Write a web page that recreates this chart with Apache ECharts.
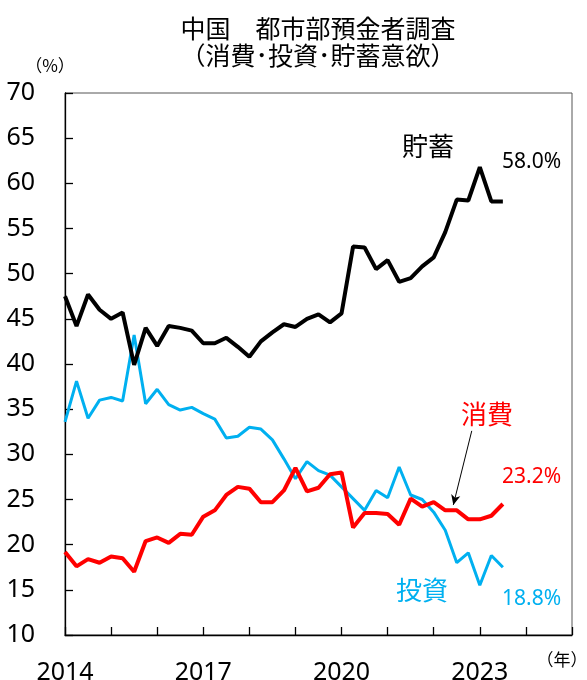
<!DOCTYPE html>
<html>
<head>
<meta charset="utf-8">
<script src="https://cdn.jsdelivr.net/npm/echarts@6/dist/echarts.min.js"></script>
<style>
html,body{margin:0;padding:0;background:#fff;}
#chart{width:587px;height:680px;}
</style>
</head>
<body>
<div id="chart"></div>
<script>
// Quarterly survey periods (first point at the 2014 tick)
const quarters = ['2013Q4','2014Q1','2014Q2','2014Q3','2014Q4','2015Q1','2015Q2','2015Q3','2015Q4',
  '2016Q1','2016Q2','2016Q3','2016Q4','2017Q1','2017Q2','2017Q3','2017Q4',
  '2018Q1','2018Q2','2018Q3','2018Q4','2019Q1','2019Q2','2019Q3','2019Q4',
  '2020Q1','2020Q2','2020Q3','2020Q4','2021Q1','2021Q2','2021Q3','2021Q4',
  '2022Q1','2022Q2','2022Q3','2022Q4','2023Q1','2023Q2'];

const savings = [47.5,44.2,47.7,46.0,45.0,45.7,39.9,44.0,42.0,44.2,44.0,43.7,42.3,42.3,42.9,41.9,40.8,
  42.5,43.5,44.4,44.1,45.0,45.5,44.6,45.6,53.0,52.9,50.5,51.5,49.1,49.5,50.8,51.8,54.6,58.2,58.1,61.8,58.0,58.0];

const consumption = [19.2,17.6,18.4,18.0,18.7,18.5,17.0,20.4,20.8,20.2,21.2,21.1,23.1,23.8,25.5,26.4,26.2,
  24.7,24.7,26.0,28.5,25.9,26.3,27.8,28.0,21.9,23.5,23.5,23.4,22.2,25.1,24.2,24.7,23.8,23.8,22.8,22.8,23.2,24.5];

const investment = [33.6,38.1,34.0,36.0,36.3,35.9,43.2,35.6,37.2,35.5,34.9,35.2,34.5,33.9,31.8,32.0,33.0,
  32.8,31.6,29.5,27.3,29.2,28.2,27.7,26.4,25.1,23.8,26.0,25.2,28.6,25.5,25.0,23.6,21.6,18.0,19.1,15.5,18.8,17.5];

// x ticks: one per year (4 quarters), labelled every 3 years
const yearTickLabels = {0:'2014', 12:'2017', 24:'2020', 36:'2023'};
const yTicks = {min:10, max:70, interval:5};

// annotation arrow (data coords: [quarter index, %])
const arrowFrom = [35.3, 32.6];
const arrowTo = [33.7, 24.4];

const toXY = arr => arr.map((v,i)=>[i,v]);

const BLUE = '#00B0F0', RED = '#FF0000', BLACK = '#000000';
const CJK = '"Noto Sans CJK JP","Noto Sans",sans-serif';
const NUM = '"Noto Sans","Liberation Sans",sans-serif';

const chart = echarts.init(document.getElementById('chart'), null, {renderer:'canvas'});
chart.setOption({
  animation:false,
  backgroundColor:'#fff',
  grid:{left:65, right:15, top:93, bottom:45, show:true, borderColor:'#555', borderWidth:1,
        containLabel:false, outerBoundsMode:'none'},
  xAxis:{
    type:'value', min:0, max:44, interval:4,
    axisLine:{show:true, onZero:false, lineStyle:{color:'#000', width:1.3}},
    axisTick:{show:true, inside:true, length:8, lineStyle:{color:'#000', width:1.3}},
    splitLine:{show:false},
    axisLabel:{
      formatter: v => yearTickLabels[v] || '',
      fontSize:25, fontFamily:NUM, color:'#000', margin:25,
      showMinLabel:true, showMaxLabel:true
    }
  },
  yAxis:{
    type:'value', min:yTicks.min, max:yTicks.max, interval:yTicks.interval,
    axisLine:{show:true, lineStyle:{color:'#000', width:1.3}},
    axisTick:{show:true, inside:true, length:8, lineStyle:{color:'#000', width:1.3}},
    splitLine:{show:false},
    axisLabel:{fontSize:25, fontFamily:NUM, color:'#000', margin:30}
  },
  series:[
    {name:'投資', type:'line', data:toXY(investment), symbol:'none', z:2,
     lineStyle:{color:BLUE, width:3}},
    {name:'消費', type:'line', data:toXY(consumption), symbol:'none', z:3,
     lineStyle:{color:RED, width:4},
     markLine:{silent:true, symbol:['none','arrow'], symbolSize:[7,10],
       label:{show:false},
       lineStyle:{color:'#000', width:1, type:'solid'},
       data:[[{coord:arrowFrom},{coord:arrowTo}]]}},
    {name:'貯蓄', type:'line', data:toXY(savings), symbol:'none', z:4,
     lineStyle:{color:BLACK, width:4}}
  ],
  graphic:[
    {type:'text', style:{x:318, y:15, text:'中国　都市部預金者調査\n（消費･投資･貯蓄意欲）',
      font:'25px '+CJK, fill:'#000', textAlign:'center', lineHeight:27}},
    {type:'text', style:{x:50, y:66, text:'（%）', font:'17px '+CJK, fill:'#000', textAlign:'center', textVerticalAlign:'middle'}},
    {type:'text', style:{x:562, y:660, text:'（年）', font:'17px '+CJK, fill:'#000', textAlign:'center', textVerticalAlign:'middle'}},
    {type:'text', style:{x:428, y:146, text:'貯蓄', font:'26px '+CJK, fill:BLACK, textAlign:'center', textVerticalAlign:'middle'}},
    {type:'text', style:{x:487, y:414, text:'消費', font:'26px '+CJK, fill:RED, textAlign:'center', textVerticalAlign:'middle'}},
    {type:'text', style:{x:422, y:590, text:'投資', font:'26px '+CJK, fill:BLUE, textAlign:'center', textVerticalAlign:'middle'}},
    {type:'text', style:{x:502, y:162, text:'58.0%', font:'21px '+NUM, fill:BLACK, textAlign:'left', textVerticalAlign:'middle'}},
    {type:'text', style:{x:502, y:477, text:'23.2%', font:'21px '+NUM, fill:RED, textAlign:'left', textVerticalAlign:'middle'}},
    {type:'text', style:{x:502, y:599, text:'18.8%', font:'21px '+NUM, fill:BLUE, textAlign:'left', textVerticalAlign:'middle'}}
  ]
});
</script>
</body>
</html>
